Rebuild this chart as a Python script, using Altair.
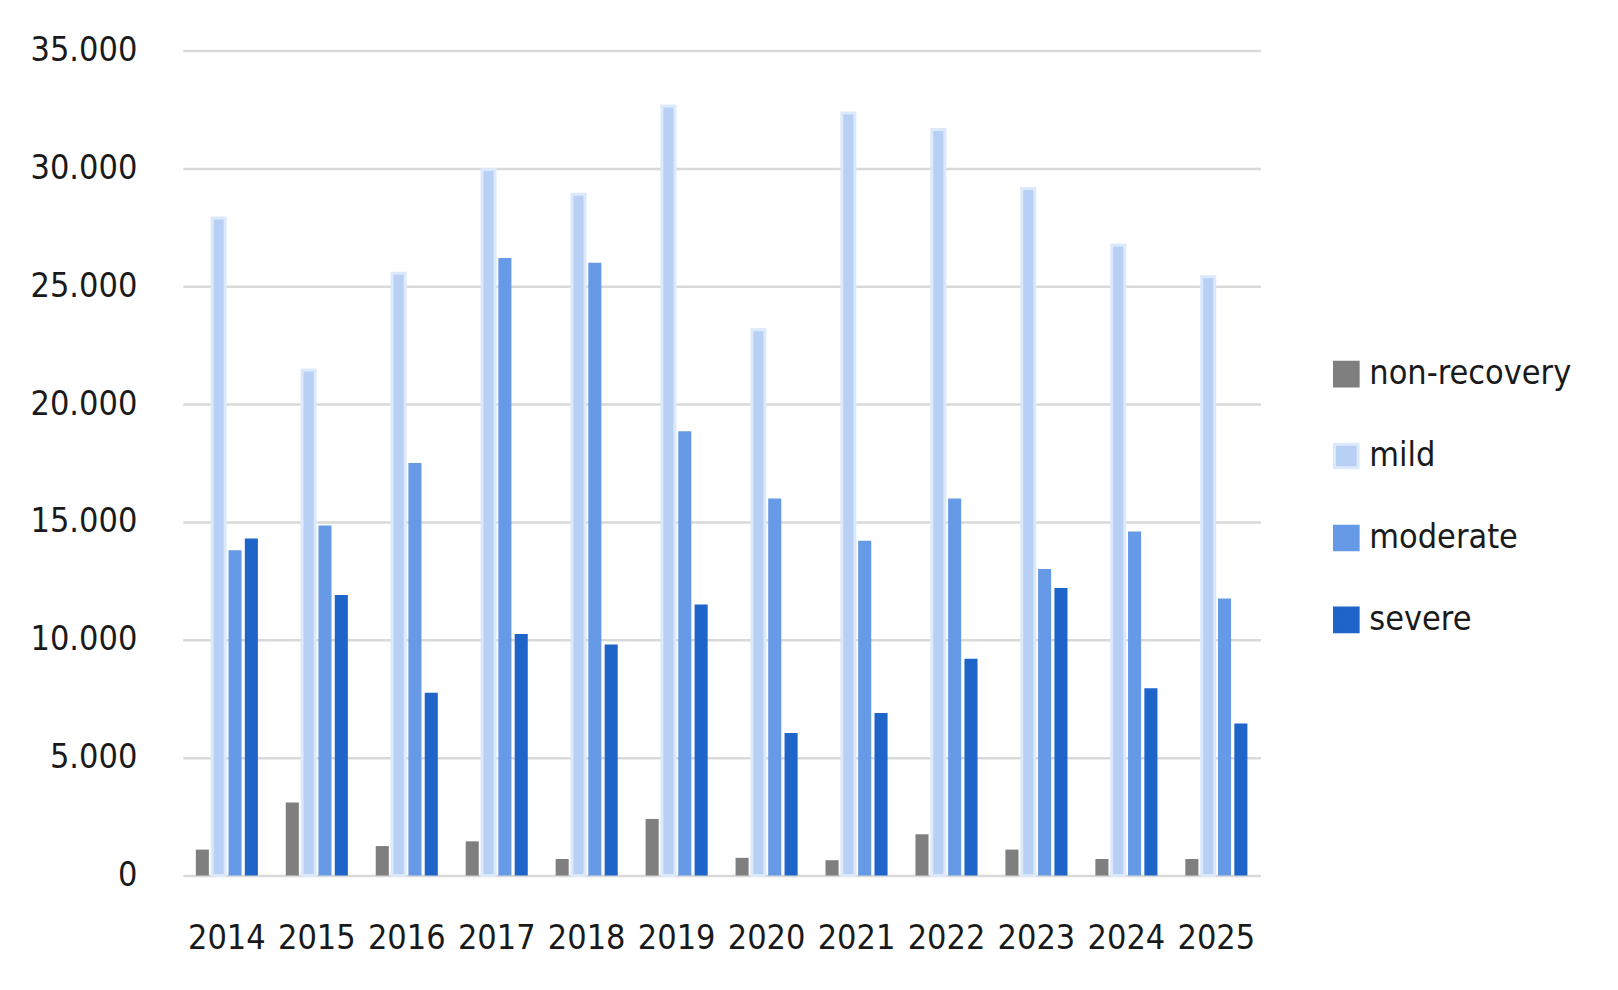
import altair as alt
import pandas as pd

years = [str(y) for y in range(2014, 2026)]
series = ["non-recovery", "mild", "moderate", "severe"]
non_recovery = [1100, 3100, 1250, 1450, 700, 2400, 750, 650, 1750, 1100, 700, 700]
mild = [27900, 21450, 25550, 29950, 28900, 32650, 23150, 32350, 31650, 29150, 26750, 25400]
moderate = [13800, 14850, 17500, 26200, 26000, 18850, 16000, 14200, 16000, 13000, 14600, 11750]
severe = [14300, 11900, 7750, 10250, 9800, 11500, 6050, 6900, 9200, 12200, 7950, 6450]

fills = ["#7f7f7f", "#b7d0f4", "#6699e6", "#1f64c8"]
strokes = ["#7f7f7f", "#dce9fa", "#6699e6", "#1f64c8"]

rows = []
for name, vals in zip(series, [non_recovery, mild, moderate, severe]):
    for y, v in zip(years, vals):
        rows.append({"year": y, "series": name, "value": v})
df = pd.DataFrame(rows)

FONT = "Liberation Sans Narrow, DejaVu Sans Condensed, sans-serif"

chart = alt.Chart(df).mark_bar().encode(
    x=alt.X("year:N", sort=years, title=None,
            scale=alt.Scale(paddingInner=0.31, paddingOuter=0.145),
            axis=alt.Axis(labelAngle=0, labelFontSize=34, labelPadding=46,
                          ticks=False, domain=False, labelColor="#1a1a1a",
                          labelFont=FONT)),
    xOffset=alt.XOffset("series:N", sort=series,
                        scale=alt.Scale(domain=series, paddingInner=0.2)),
    y=alt.Y("value:Q", title=None,
            scale=alt.Scale(domain=[0, 35000], nice=False),
            axis=alt.Axis(values=list(range(0, 35001, 5000)), labelFontSize=34,
                          labelPadding=46, ticks=False, domain=False,
                          labelColor="#1a1a1a", labelFont=FONT,
                          gridColor="#d9d9d9", gridWidth=2.5,
                          labelExpr="replace(format(datum.value, ','), ',', '.')")),
    color=alt.Color("series:N", sort=series, title=None,
                    scale=alt.Scale(domain=series, range=fills),
                    legend=alt.Legend(orient="none", legendX=1148, legendY=307,
                                      symbolType="square", symbolSize=560,
                                      symbolStrokeWidth=3, labelFontSize=34,
                                      labelFont=FONT, labelColor="#1a1a1a",
                                      rowPadding=46, labelOffset=6,
                                      labelLimit=400)),
    stroke=alt.Stroke("series:N", sort=series, title=None,
                      scale=alt.Scale(domain=series, range=strokes)),
    strokeWidth=alt.condition(alt.datum.series == "mild", alt.value(3), alt.value(0)),
).properties(
    width=1079, height=826,
    autosize=alt.AutoSizeParams(type="none"),
    padding={"left": 175, "top": 42, "right": 350, "bottom": 100},
).configure_view(stroke=None).configure_axis(labelFontWeight="normal")

chart.save("out.html", embed_options={"renderer": "svg", "actions": False})
